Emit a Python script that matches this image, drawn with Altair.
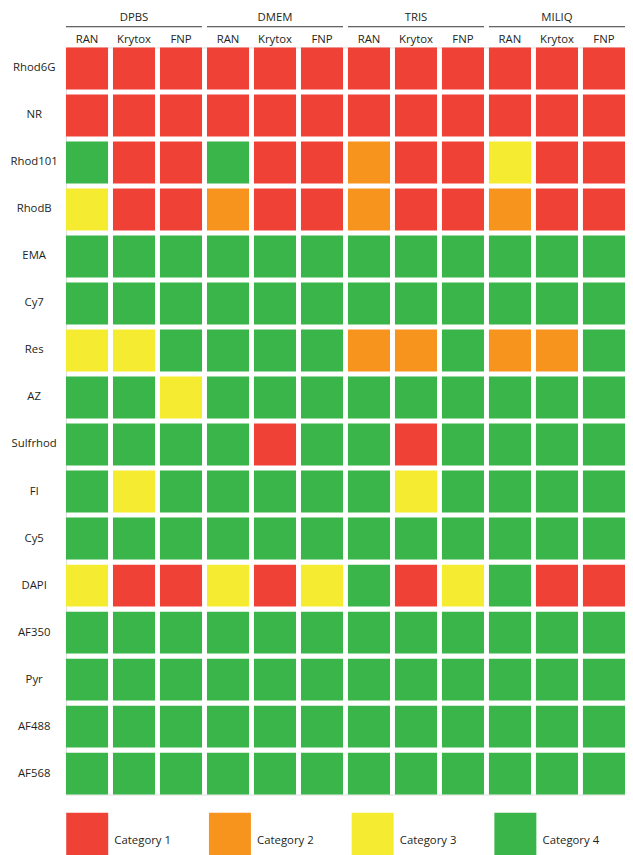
import altair as alt
import pandas as pd

rows = ["Rhod6G", "NR", "Rhod101", "RhodB", "EMA", "Cy7", "Res", "AZ",
        "Sulfrhod", "Fl", "Cy5", "DAPI", "AF350", "Pyr", "AF488", "AF568"]
groups = ["DPBS", "DMEM", "TRIS", "MILIQ"]
subs = ["RAN", "Krytox", "FNP"]
categories = ["Category 1", "Category 2", "Category 3", "Category 4"]
colors = ["#EF4136", "#F7941D", "#F5EB30", "#3AB54A"]

# category number per row, columns: DPBS(RAN,Krytox,FNP) DMEM(...) TRIS(...) MILIQ(...)
values = [
    [1, 1, 1, 1, 1, 1, 1, 1, 1, 1, 1, 1],  # Rhod6G
    [1, 1, 1, 1, 1, 1, 1, 1, 1, 1, 1, 1],  # NR
    [4, 1, 1, 4, 1, 1, 2, 1, 1, 3, 1, 1],  # Rhod101
    [3, 1, 1, 2, 1, 1, 2, 1, 1, 2, 1, 1],  # RhodB
    [4, 4, 4, 4, 4, 4, 4, 4, 4, 4, 4, 4],  # EMA
    [4, 4, 4, 4, 4, 4, 4, 4, 4, 4, 4, 4],  # Cy7
    [3, 3, 4, 4, 4, 4, 2, 2, 4, 2, 2, 4],  # Res
    [4, 4, 3, 4, 4, 4, 4, 4, 4, 4, 4, 4],  # AZ
    [4, 4, 4, 4, 1, 4, 4, 1, 4, 4, 4, 4],  # Sulfrhod
    [4, 3, 4, 4, 4, 4, 4, 3, 4, 4, 4, 4],  # Fl
    [4, 4, 4, 4, 4, 4, 4, 4, 4, 4, 4, 4],  # Cy5
    [3, 1, 1, 3, 1, 3, 4, 1, 3, 4, 1, 1],  # DAPI
    [4, 4, 4, 4, 4, 4, 4, 4, 4, 4, 4, 4],  # AF350
    [4, 4, 4, 4, 4, 4, 4, 4, 4, 4, 4, 4],  # Pyr
    [4, 4, 4, 4, 4, 4, 4, 4, 4, 4, 4, 4],  # AF488
    [4, 4, 4, 4, 4, 4, 4, 4, 4, 4, 4, 4],  # AF568
]

FONT = "Open Sans"
TXT = "#231F20"
FS = 11.5

keys = [f"{g}|{s}" for g in groups for s in subs]

cells = pd.DataFrame([
    {"row": r, "col": keys[j], "category": categories[values[i][j] - 1]}
    for i, r in enumerate(rows) for j in range(len(keys))
])

hdr = pd.DataFrame({
    "group": groups,
    "mid": [f"{g}|{subs[1]}" for g in groups],
    "first": [f"{g}|{subs[0]}" for g in groups],
    "last": [f"{g}|{subs[-1]}" for g in groups],
})

xaxis = alt.Axis(orient="top", labelExpr="split(datum.value, '|')[1]",
                 labelAngle=0, ticks=False, tickSize=0, domain=False,
                 labelPadding=3, labelFont=FONT, labelFontSize=FS,
                 labelColor=TXT, labelOverlap=False, title=None)
xscale = alt.Scale(domain=keys, paddingInner=0.105, paddingOuter=0, round=False)
yscale = alt.Scale(domain=rows, paddingInner=0.109, paddingOuter=0, round=False)

grid = alt.Chart(cells).mark_rect().encode(
    x=alt.X("col:N", scale=xscale, title=None, axis=xaxis),
    y=alt.Y("row:N", scale=yscale, title=None,
            axis=alt.Axis(ticks=False, tickSize=0, domain=False, labelAlign="center",
                          labelPadding=32.7, labelFont=FONT, labelFontSize=FS,
                          labelColor=TXT, labelOverlap=False)),
    color=alt.Color("category:N",
                    scale=alt.Scale(domain=categories, range=colors),
                    legend=alt.Legend(orient="none", legendX=0, legendY=781.8,
                                      direction="horizontal", columns=4, title=None,
                                      symbolType="M-1,-1.34H1V1.34H-1Z",
                                      symbolSize=1806,
                                      symbolStrokeWidth=0, symbolOpacity=1,
                                      labelFont=FONT, labelFontSize=FS,
                                      labelColor=TXT, labelOffset=6,
                                      labelBaseline="middle",
                                      columnPadding=37.5, padding=0)),
)

group_text = alt.Chart(hdr).mark_text(font=FONT, fontSize=FS, color=TXT,
                                      baseline="bottom").encode(
    x=alt.X("mid:N", scale=xscale, title=None, axis=xaxis),
    y=alt.value(-24.4),
    text="group:N",
)

group_rule = alt.Chart(hdr).mark_rule(color="#333333", strokeWidth=1).encode(
    x=alt.X("first:N", scale=xscale, title=None, axis=xaxis, bandPosition=0),
    x2=alt.X2("last:N", bandPosition=1),
    y=alt.value(-21),
)

chart = alt.layer(grid, group_rule, group_text).properties(
    width=566, height=756.4,
    padding={"left": 58.7, "top": 34.7, "right": 0, "bottom": 56},
    autosize=alt.AutoSizeParams(type="none"),
).configure_view(stroke=None).configure(background="white")

chart.save("out.html", embed_options={"renderer": "svg", "actions": False})
